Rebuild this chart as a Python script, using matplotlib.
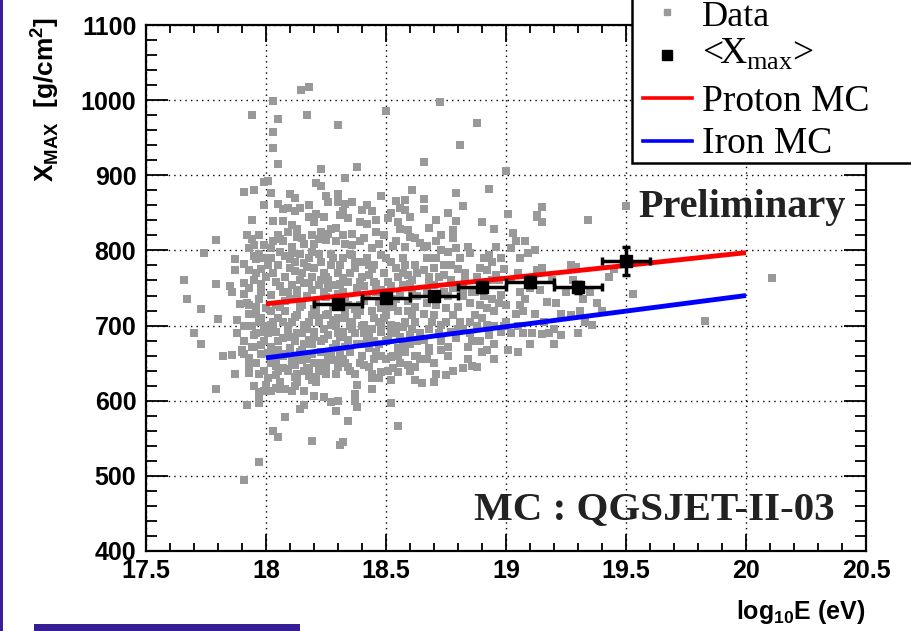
import matplotlib
matplotlib.use("Agg")
import matplotlib.pyplot as plt
from matplotlib.patches import Rectangle
from matplotlib.lines import Line2D
from matplotlib.ticker import MultipleLocator

plt.rcParams['mathtext.fontset'] = 'custom'
plt.rcParams['mathtext.rm'] = 'Liberation Serif'
plt.rcParams['mathtext.bf'] = 'Liberation Sans:bold'

# ---------------- data ----------------
data_pts = [
    (18.145, 1014), (18.18, 1018), (18.03, 999), (17.94, 980), (18.05, 975), (18.17, 980),
    (18.30, 967), (18.50, 985), (18.03, 957), (18.03, 936), (18.05, 915), (18.23, 909),
    (18.38, 911), (18.33, 897), (18.01, 892), (17.99, 891), (18.21, 890), (18.23, 886),
    (17.91, 878), (18.02, 876), (18.10, 875), (18.30, 875), (18.61, 881), (18.54, 866),
    (18.58, 867), (18.26, 865), (18.30, 865), (18.36, 865), (18.07, 855), (18.09, 857),
    (18.12, 853), (18.14, 857), (18.32, 853), (18.40, 854), (18.44, 853), (18.56, 857),
    (18.58, 854), (18.21, 849),
    (18.725, 998), (18.88, 970), (18.81, 940), (18.66, 918), (19.00, 906), (18.93, 882),
    (18.79, 876), (18.66, 868), (18.82, 859), (19.15, 858), (19.50, 859), (19.01, 849),
    (19.13, 847),
    (18.68, 666), (18.73, 668), (18.67, 656), (18.92, 668), (19.01, 668), (18.71, 636),
    (18.75, 634), (18.82, 643), (18.86, 646), (18.65, 623),
    (17.79, 616), (17.92, 594), (17.97, 601), (17.97, 597), (18.08, 578), (18.14, 589),
    (18.16, 594), (18.03, 560), (18.05, 552), (18.19, 546), (18.29, 586), (18.34, 573),
    (18.32, 545), (18.31, 541), (17.97, 518), (17.91, 495), (18.55, 567), (18.52, 597),
    (18.38, 592), (18.37, 609), (18.37, 599), (18.30, 600), (18.27, 598), (18.24, 605),
    (18.20, 606), (18.16, 613), (18.11, 613), (18.44, 616), (18.38, 621), (18.52, 628),
    (18.62, 628), (18.55, 638), (18.59, 647), (18.53, 644), (18.62, 660), (18.52, 658),
    (18.48, 638), (18.44, 630), (18.44, 636), (18.41, 648), (18.46, 661), (18.48, 659),
    (17.87, 636), (17.93, 637), (17.97, 635), (17.93, 647), (17.82, 660), (17.86, 661),
    (17.91, 662), (17.93, 657), (17.95, 620), (18.00, 621), (17.99, 613), (18.02, 613),
    (18.04, 617), (18.06, 616), (18.08, 616), (18.12, 620), (18.04, 634), (18.04, 646),
    (18.07, 644), (18.09, 642), (18.12, 647), (18.12, 632), (18.13, 636), (18.13, 625),
    (18.18, 633), (18.19, 628), (18.21, 632), (18.25, 635), (18.29, 636), (18.17, 643),
    (18.18, 644), (18.20, 650), (18.23, 650), (18.26, 654), (18.29, 654), (18.32, 656),
    (18.34, 645), (18.30, 645), (18.15, 654), (18.11, 656), (18.07, 659), (18.02, 661),
    (18.01, 663), (17.90, 668),
    (17.79, 814), (17.74, 796), (17.87, 788), (17.87, 774), (17.79, 755), (17.85, 753),
    (17.86, 745), (17.73, 722), (17.80, 709), (17.88, 708), (17.91, 700), (17.73, 675),
    (17.92, 821), (17.94, 815), (17.95, 807), (17.93, 803), (17.95, 793), (17.96, 788),
    (17.91, 782), (17.93, 774), (17.91, 756), (17.93, 750), (17.91, 742), (17.89, 729),
    (17.93, 727), (17.96, 716), (17.93, 716), (17.97, 705), (17.98, 710), (17.99, 807),
    (18.00, 765), (17.98, 745), (17.97, 736), (17.99, 692), (17.95, 687), (17.91, 679),
    (17.98, 674), (17.94, 672),
    (18.03, 839), (18.07, 839), (18.11, 834), (18.13, 829), (18.18, 844), (18.20, 838),
    (18.24, 844), (18.27, 829), (18.31, 847), (18.34, 843), (18.39, 838), (18.46, 841),
    (18.51, 843), (18.55, 838), (18.59, 827), (18.05, 821), (18.07, 812), (18.02, 803),
    (18.11, 805), (18.15, 816), (18.19, 821), (18.23, 825), (18.25, 814), (18.29, 812),
    (18.32, 821), (18.36, 807), (18.41, 816), (18.44, 803), (18.47, 809), (18.54, 812),
    (18.58, 805), (18.62, 816),
    (18.02, 790), (18.05, 781), (18.08, 792), (18.10, 776), (18.12, 785), (18.15, 770),
    (18.18, 790), (18.20, 776), (18.23, 785), (18.25, 765), (18.27, 781), (18.30, 770),
    (18.32, 790), (18.34, 758), (18.37, 776), (18.40, 785), (18.43, 767), (18.45, 781),
    (18.48, 794), (18.51, 758), (18.54, 776), (18.57, 790), (18.59, 767), (18.62, 781),
    (18.04, 758), (18.07, 745), (18.11, 754), (18.13, 741), (18.16, 756), (18.19, 747),
    (18.22, 754), (18.26, 750), (18.29, 754), (18.32, 745), (18.41, 752), (18.45, 758),
    (18.48, 747), (18.57, 754), (18.61, 745), (18.02, 741), (18.36, 794), (18.11, 796),
    (18.19, 798),
    (18.02, 719), (18.05, 710), (18.08, 719), (18.11, 705), (18.13, 714), (18.16, 701),
    (18.19, 714), (18.22, 705), (18.25, 714), (18.27, 701), (18.30, 710), (18.33, 719),
    (18.36, 705), (18.38, 714), (18.41, 701), (18.44, 719), (18.47, 705), (18.50, 714),
    (18.52, 701), (18.55, 719), (18.58, 705), (18.61, 714), (18.04, 692), (18.07, 683),
    (18.09, 694), (18.12, 679), (18.15, 690), (18.18, 681), (18.20, 692), (18.23, 679),
    (18.26, 687), (18.29, 676), (18.32, 692), (18.34, 681), (18.37, 690), (18.40, 676),
    (18.43, 687), (18.45, 679), (18.48, 692), (18.51, 681), (18.54, 690), (18.57, 676),
    (18.60, 687), (18.63, 679), (18.02, 672), (18.02, 701), (18.00, 723),
    (18.79, 839), (18.78, 827), (18.73, 821), (18.78, 817), (18.95, 829), (18.90, 838),
    (19.13, 845), (19.15, 838), (19.34, 841), (19.03, 823), (19.04, 812), (19.08, 812),
    (18.96, 805), (18.84, 805), (18.79, 803), (18.73, 801), (18.66, 804), (18.67, 790),
    (18.71, 790), (18.76, 798), (18.81, 790), (18.85, 796), (18.93, 794), (18.94, 785),
    (18.98, 790), (19.02, 803), (19.06, 790), (19.09, 796), (19.12, 801), (18.77, 781),
    (18.70, 776), (18.66, 774), (18.68, 765), (18.74, 767), (18.83, 770), (18.89, 777),
    (18.92, 774), (18.96, 767), (19.13, 774), (19.15, 777), (19.27, 781), (19.29, 778),
    (19.43, 764), (19.06, 745), (19.14, 747), (19.17, 732), (19.06, 727), (19.04, 716),
    (19.07, 719), (19.23, 716), (19.27, 714), (19.31, 719), (19.38, 730), (19.53, 742),
    (19.33, 705), (19.36, 701), (19.20, 696), (19.02, 690), (19.07, 690), (19.11, 690),
    (19.15, 689), (19.18, 690), (19.23, 687), (18.98, 741), (19.00, 727), (18.94, 736),
    (18.92, 723), (18.89, 727), (18.87, 714), (18.92, 701), (18.85, 705), (18.81, 705),
    (18.82, 696), (18.78, 714), (18.75, 723), (18.71, 727), (18.67, 730), (18.66, 716),
    (18.70, 714), (18.73, 701), (18.68, 696), (18.77, 692), (18.79, 683), (18.73, 679),
    (18.66, 681), (18.84, 672), (18.89, 679), (18.93, 687), (18.98, 692), (18.68, 670),
    (18.78, 750), (18.82, 739), (18.86, 745), (18.74, 745), (18.70, 754),
    (19.83, 706), (20.11, 763), (17.66, 760), (17.67, 735), (17.70, 690),
    (18.01, 780), (18.03, 770), (18.06, 798), (18.08, 765), (18.09, 745), (18.10, 735),
    (18.12, 772), (18.14, 795), (18.14, 760), (18.17, 740), (18.17, 778), (18.19, 765),
    (18.21, 730), (18.22, 795), (18.24, 770), (18.24, 745), (18.26, 760), (18.28, 790),
    (18.28, 725), (18.31, 780), (18.31, 755), (18.33, 735), (18.35, 770), (18.35, 795),
    (18.38, 750), (18.39, 728), (18.40, 765), (18.42, 790), (18.42, 740), (18.44, 775),
    (18.46, 755), (18.47, 732), (18.49, 770), (18.50, 745), (18.52, 785), (18.53, 725),
    (18.55, 765), (18.56, 740), (18.58, 780), (18.60, 755), (18.62, 725), (18.63, 770),
    (18.01, 690), (18.03, 705), (18.05, 680), (18.06, 725), (18.09, 700), (18.10, 670),
    (18.13, 690), (18.14, 725), (18.16, 675), (18.18, 705), (18.20, 685), (18.21, 720),
    (18.23, 665), (18.24, 695), (18.26, 715), (18.28, 670), (18.29, 700), (18.31, 685),
    (18.33, 710), (18.35, 665), (18.36, 695), (18.38, 675), (18.39, 720), (18.41, 690),
    (18.43, 670), (18.45, 710), (18.46, 665), (18.48, 700), (18.50, 680), (18.51, 725),
    (18.53, 660), (18.54, 700), (18.56, 685), (18.58, 665), (18.59, 720), (18.61, 695),
    (18.63, 660), (18.64, 690),
    (18.02, 650), (18.05, 640), (18.08, 662), (18.11, 648), (18.14, 665), (18.17, 655),
    (18.22, 640), (18.27, 660), (18.33, 650), (18.37, 635), (18.40, 660), (18.43, 645),
    (18.47, 630), (18.50, 655), (18.56, 650), (18.60, 640), (18.64, 655),
    (17.94, 700), (17.96, 690), (17.92, 730), (17.95, 760), (17.98, 775), (17.97, 795),
    (17.96, 725), (17.99, 680), (17.90, 665), (17.88, 690),
    (18.03, 812), (18.09, 825), (18.16, 808), (18.22, 815), (18.29, 830), (18.36, 822),
    (18.42, 835), (18.49, 820), (18.56, 828), (18.64, 810), (18.68, 830), (18.71, 812),
    (18.67, 745), (18.69, 790), (18.72, 765), (18.75, 705), (18.76, 740), (18.80, 725),
    (18.83, 760), (18.85, 690), (18.87, 745), (18.90, 710), (18.91, 790), (18.95, 720),
    (18.97, 760), (18.99, 700), (18.70, 650), (18.76, 660), (18.84, 655), (18.90, 665),
    (18.04, 728), (18.06, 752), (18.08, 733), (18.10, 788), (18.13, 748), (18.15, 728),
    (18.16, 783), (18.18, 756), (18.20, 722), (18.23, 760), (18.25, 738), (18.27, 795),
    (18.30, 742), (18.32, 763), (18.34, 727), (18.37, 784), (18.39, 758), (18.41, 733),
    (18.43, 780), (18.46, 745), (18.48, 723), (18.50, 790), (18.52, 752), (18.54, 735),
    (18.57, 770), (18.59, 733), (18.61, 760), (18.63, 740),
    (18.03, 695), (18.05, 668), (18.07, 705), (18.10, 685), (18.12, 712), (18.15, 668),
    (18.17, 695), (18.19, 675), (18.22, 710), (18.24, 682), (18.26, 665), (18.28, 708),
    (18.30, 690), (18.33, 672), (18.35, 700), (18.37, 722), (18.40, 700), (18.42, 682),
    (18.44, 695), (18.47, 675), (18.49, 710), (18.52, 690), (18.55, 670), (18.57, 698),
    (18.60, 675), (18.62, 705),
    (18.01, 630), (18.04, 655), (18.06, 625), (18.09, 640), (18.13, 658), (18.16, 640),
    (18.19, 662), (18.21, 625), (18.25, 645), (18.31, 665), (18.35, 640), (18.39, 650),
    (18.45, 655), (18.51, 640), (18.55, 660), (18.62, 645),
    (17.96, 650), (17.98, 662), (17.99, 640), (17.95, 672), (17.97, 612), (17.99, 700),
    (17.98, 755), (17.96, 770), (17.99, 790), (17.97, 820), (17.94, 840), (17.99, 860),
    (17.95, 880),
    (18.05, 862), (18.12, 870), (18.18, 860), (18.25, 872), (18.33, 862), (18.42, 860),
    (18.48, 872), (18.52, 850), (18.60, 845), (18.66, 855), (18.71, 840), (18.76, 850),
    (18.06, 815), (18.13, 818), (18.20, 808), (18.26, 822), (18.33, 808), (18.39, 812),
    (18.46, 825), (18.53, 806), (18.60, 818), (18.67, 806),
    (18.68, 760), (18.71, 740), (18.74, 780), (18.77, 760), (18.80, 775), (18.82, 750),
    (18.85, 730), (18.88, 765), (18.91, 740), (18.94, 760), (18.97, 730), (18.99, 775),
    (19.02, 760), (19.05, 770), (19.08, 735), (19.10, 750), (19.12, 715), (19.16, 705),
    (19.19, 760), (19.21, 730), (19.25, 745), (19.28, 760), (19.32, 735), (19.35, 745),
    (19.40, 720), (19.45, 775),
    (18.69, 705), (18.72, 690), (18.76, 672), (18.80, 695), (18.86, 680), (18.88, 700),
    (18.95, 700), (19.00, 705), (19.05, 700), (19.10, 676), (18.95, 675),
    (18.70, 625), (18.78, 640), (18.88, 645), (18.95, 655), (19.05, 665), (19.20, 675),
    (19.30, 690),
]
data_logE = [p[0] for p in data_pts]
data_xmax = [p[1] for p in data_pts]

mean_logE = [18.3, 18.5, 18.7, 18.9, 19.1, 19.3, 19.5]
mean_xmax = [729, 737, 740, 751, 758, 751, 786]
mean_yerr = [4, 4, 5, 6, 7, 7, 19]
mean_xerr = [0.1, 0.1, 0.1, 0.1, 0.1, 0.1, 0.1]

proton_logE = [18.0, 20.0]
proton_xmax = [729, 797]
iron_logE = [18.0, 20.0]
iron_xmax = [657, 740]

xticks = [17.5, 18, 18.5, 19, 19.5, 20, 20.5]
xticklabels = ["17.5", "18", "18.5", "19", "19.5", "20", "20.5"]
yticks = [400, 500, 600, 700, 800, 900, 1000, 1100]

# ---------------- figure ----------------
W, H = 912, 631
fig = plt.figure(figsize=(W / 100, H / 100), dpi=100)
ax = fig.add_axes([146 / W, 1 - 551 / H, (866 - 146) / W, (551 - 25) / H])
ax.set_xlim(17.5, 20.5)
ax.set_ylim(400, 1100)

ax.scatter(data_logE, data_xmax, marker='s', s=27, color='#999999',
           linewidths=0, zorder=2)
ax.plot(proton_logE, proton_xmax, color='#ff0000', lw=3.5, zorder=3,
        solid_capstyle='butt')
ax.plot(iron_logE, iron_xmax, color='#0000ff', lw=3.5, zorder=3,
        solid_capstyle='butt')
ax.errorbar(mean_logE, mean_xmax, xerr=mean_xerr, yerr=mean_yerr, fmt='s',
            color='black', ms=8, lw=2.5, capsize=3, capthick=2.5, zorder=4)

ax.set_xticks(xticks)
ax.set_xticklabels(xticklabels)
ax.set_yticks(yticks)
ax.xaxis.set_minor_locator(MultipleLocator(0.1))
ax.yaxis.set_minor_locator(MultipleLocator(20))
ax.grid(True, which='major', color='black', linestyle=(0, (1, 3)), lw=1.0, zorder=1)
ax.set_axisbelow(True)

for s in ax.spines.values():
    s.set_linewidth(1.6)

ax.tick_params(axis='both', which='both', direction='in', top=True, right=True,
               width=1.3, labelsize=18)
ax.tick_params(axis='x', which='major', length=12.5, pad=6)
ax.tick_params(axis='x', which='minor', length=6)
ax.tick_params(axis='y', which='major', length=16, pad=7)
ax.tick_params(axis='y', which='minor', length=7.7)
for lab in ax.get_xticklabels() + ax.get_yticklabels():
    lab.set_fontfamily('Liberation Sans')
    lab.set_fontweight('bold')

# axis titles
fig.text(45 / W, 1 - 17 / H, r'X$_{\mathbf{MAX}}$  [g/cm$^{\mathbf{2}}$]', rotation=90,
         ha='center', va='top', fontsize=19, fontweight='bold',
         fontfamily='Liberation Sans')
fig.text(866 / W, 1 - 619 / H, r'log$_{\mathbf{10}}$E (eV)', ha='right',
         va='baseline', fontsize=18, fontweight='bold', fontfamily='Liberation Sans')

# annotations
fig.text(742 / W, 1 - 217 / H, 'Preliminary', ha='center', va='baseline',
         fontsize=29, fontweight='bold', fontfamily='Liberation Serif', color='#222222')
fig.text(654 / W, 1 - 519 / H, 'MC : QGSJET-II-03', ha='center', va='baseline',
         fontsize=29.5, fontweight='bold', fontfamily='Liberation Serif', color='#222222')

# legend box (manual, extends past figure edge)
leg = Rectangle((632 / W, 1 - 163 / H), 1.0, 1.0, transform=fig.transFigure,
                facecolor='white', edgecolor='black', lw=1.8, zorder=10, clip_on=False)
fig.add_artist(leg)
fig.add_artist(Line2D([667 / W], [1 - 12 / H], marker='s', ms=4, color='#999999',
                      lw=0, transform=fig.transFigure, zorder=11))
fig.add_artist(Line2D([667 / W], [1 - 55 / H], marker='s', ms=6.5, color='black',
                      lw=0, transform=fig.transFigure, zorder=11))
fig.add_artist(Line2D([643 / W, 692 / W], [1 - 98 / H] * 2, color='#ff0000', lw=2.6,
                      transform=fig.transFigure, zorder=11))
fig.add_artist(Line2D([643 / W, 692 / W], [1 - 141 / H] * 2, color='#0000ff', lw=2.6,
                      transform=fig.transFigure, zorder=11))
leg_labels = ['Data', r'<X$_{\mathrm{max}}$>', 'Proton MC', 'Iron MC']
leg_base = [26, 64, 111, 153]
leg_size = [26, 27, 27, 27]
for lab, yb, fs in zip(leg_labels, leg_base, leg_size):
    fig.text(702 / W, 1 - yb / H, lab, ha='left', va='baseline', fontsize=fs,
             fontfamily='Liberation Serif', color='black', zorder=12)

# purple decorations
fig.add_artist(Rectangle((0, 0), 3.5 / W, 1, transform=fig.transFigure,
                         facecolor='#3a1f97', edgecolor='none', zorder=12))
fig.add_artist(Rectangle((34 / W, 0), (300 - 34) / W, 7 / H, transform=fig.transFigure,
                         facecolor='#361c95', edgecolor='none', zorder=12))

fig.savefig('out.png', dpi=100)
